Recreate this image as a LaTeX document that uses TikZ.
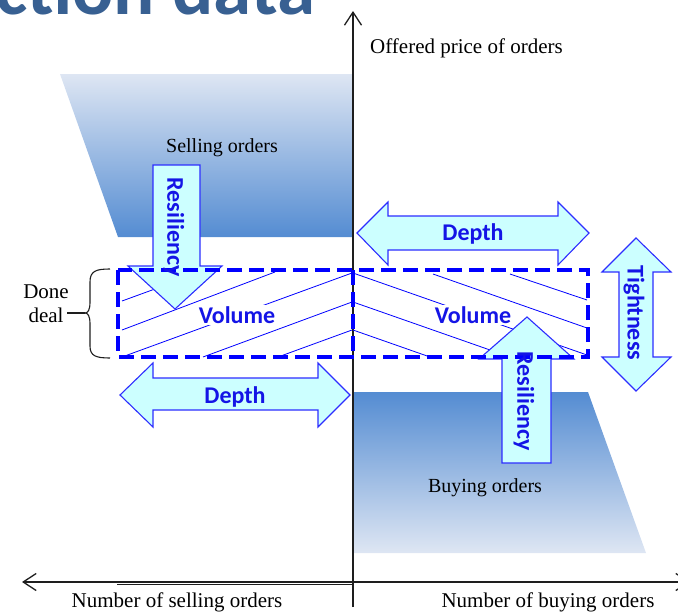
\documentclass[tikz,border=0pt]{standalone}
\usepackage{fontspec}
\setmainfont{Liberation Serif}
\newfontfamily\calib{Carlito}
\usetikzlibrary{arrows.meta}
\definecolor{titleblue}{RGB}{56,96,146}
\definecolor{dashblue}{RGB}{0,0,255}
\definecolor{arrowfill}{RGB}{204,255,255}
\definecolor{arrowline}{RGB}{45,45,255}
\definecolor{labblue}{RGB}{20,20,230}
\definecolor{shadelight}{RGB}{222,230,243}
\definecolor{shadedark}{RGB}{84,140,210}
\definecolor{axisgray}{RGB}{30,30,30}
\begin{document}
\begin{tikzpicture}[x=1pt,y=-1pt,
  axis/.style={line width=1.4pt, draw=axisgray},
  barb/.tip={Straight Barb[length=13pt,width=17pt,line width=1.3pt]},
  fat/.style={fill=arrowfill, draw=arrowline, line width=1.1pt, line join=miter},
  blab/.style={font=\calib\bfseries\fontsize{24}{24}\selectfont, text=labblue, inner sep=0pt},
  slab/.style={font=\fontsize{21}{21}\selectfont, inner sep=0pt},
  mlab/.style={font=\fontsize{20}{20}\selectfont, inner sep=0pt},
  hatch/.style={draw=blue, line width=0.8pt},
  dbox/.style={draw=dashblue, line width=4pt, dash pattern=on 15pt off 7pt}
]
\useasboundingbox (0,0) rectangle (678,613);

% title (cut off at the top)
\node[anchor=base west, font=\calib\bfseries\fontsize{77}{77}\selectfont, text=titleblue, inner sep=0pt] (title) at (-5,14) {ction data};

% order regions
\shade[top color=shadelight, bottom color=shadedark] (60,74) -- (353,74) -- (353,237) -- (118,237) -- cycle;
\shade[top color=shadedark, bottom color=shadelight] (353,392) -- (588,392) -- (646,553) -- (353,553) -- cycle;

% axes
\draw[axis, -barb] (353,607) -- (353,11);
\draw[axis, barb-barb] (22,582) -- (690,582);
\draw[line width=0.8pt, draw=axisgray] (117,584) -- (353,584);

% hatch lines, left half
\draw[hatch] (122,301) -- (207,270);
\draw[hatch] (122,330) -- (275,272);
\draw[hatch] (122,357) -- (352,273);
\draw[hatch] (203,357) -- (352,302);
\draw[hatch] (278,357) -- (352,330);
% hatch lines, right half
\draw[hatch] (353,273) -- (587,355);
\draw[hatch] (433,274) -- (587,328);
\draw[hatch] (510,274) -- (587,300);
\draw[hatch] (353,302) -- (510,357);
\draw[hatch] (353,330) -- (430,357);

\node[blab, fill=white, inner sep=1.5pt, anchor=base] (volL) at (237,323) {Volume};
\node[blab, fill=white, inner sep=1.5pt, anchor=base] (volR) at (473,323) {Volume};

% fat arrows
\draw[fat] (153,165) -- (200,165) -- (200,266) -- (222,266) -- (175,309) -- (128,266) -- (153,266) -- cycle;
\draw[fat] (502,463) -- (551,463) -- (551,359) -- (574,359) -- (527,317) -- (479,359) -- (502,359) -- cycle;
\draw[fat] (357,233) -- (388,202) -- (388,216) -- (558,216) -- (558,202) -- (589,233) -- (558,265) -- (558,250) -- (388,250) -- (388,265) -- cycle;
\draw[fat] (120,395) -- (153,363) -- (153,378) -- (318,378) -- (318,363) -- (350,395) -- (318,427) -- (318,410) -- (153,410) -- (153,427) -- cycle;
\draw[fat] (636,238) -- (671,272) -- (653,272) -- (653,357) -- (671,357) -- (636,391) -- (602,357) -- (619,357) -- (619,272) -- (602,272) -- cycle;

% done-deal box
\draw[dbox] (118,270) rectangle (588,357);
\draw[dbox] (353,270) -- (353,357);

% arrow labels
\node[blab, anchor=base] (depthT) at (473,240) {Depth};
\node[blab, anchor=base] (depthB) at (235,403) {Depth};
\node[blab, rotate=-90] (resL) at (174,227) {Resiliency};
\node[blab, rotate=-90] (resR) at (524,401) {Resiliency};
\node[blab, rotate=-90] (tight) at (634,313) {Tightness};

% brace
\draw[line width=1.1pt, draw=axisgray] (110,269) .. controls (96,269) and (90,271) .. (90,282) -- (90,302) .. controls (90,310) and (88,313) .. (85,313) .. controls (88,313) and (90,316) .. (90,324) -- (90,346) .. controls (90,356) and (96,358) .. (110,358);
\coordinate (bracetip) at (85,313);
\coordinate (braceend) at (67,313);
\draw[line width=1.1pt, draw=axisgray] (bracetip) -- (braceend);

% texts
\node[slab, anchor=base] (done) at (46,298) {Done};
\node[slab, anchor=base] (deal) at (46,322) {deal};
\node[slab, anchor=base west] (price) at (370,53) {Offered price of orders};
\node[slab, anchor=base] (sellx) at (177,607) {Number of selling orders};
\node[slab, anchor=base] (buyx) at (548,607) {Number of buying orders};
\node[mlab, anchor=base] (selling) at (222,152) {Selling orders};
\node[mlab, anchor=base] (buying) at (485,492) {Buying orders};
\end{tikzpicture}
\end{document}
